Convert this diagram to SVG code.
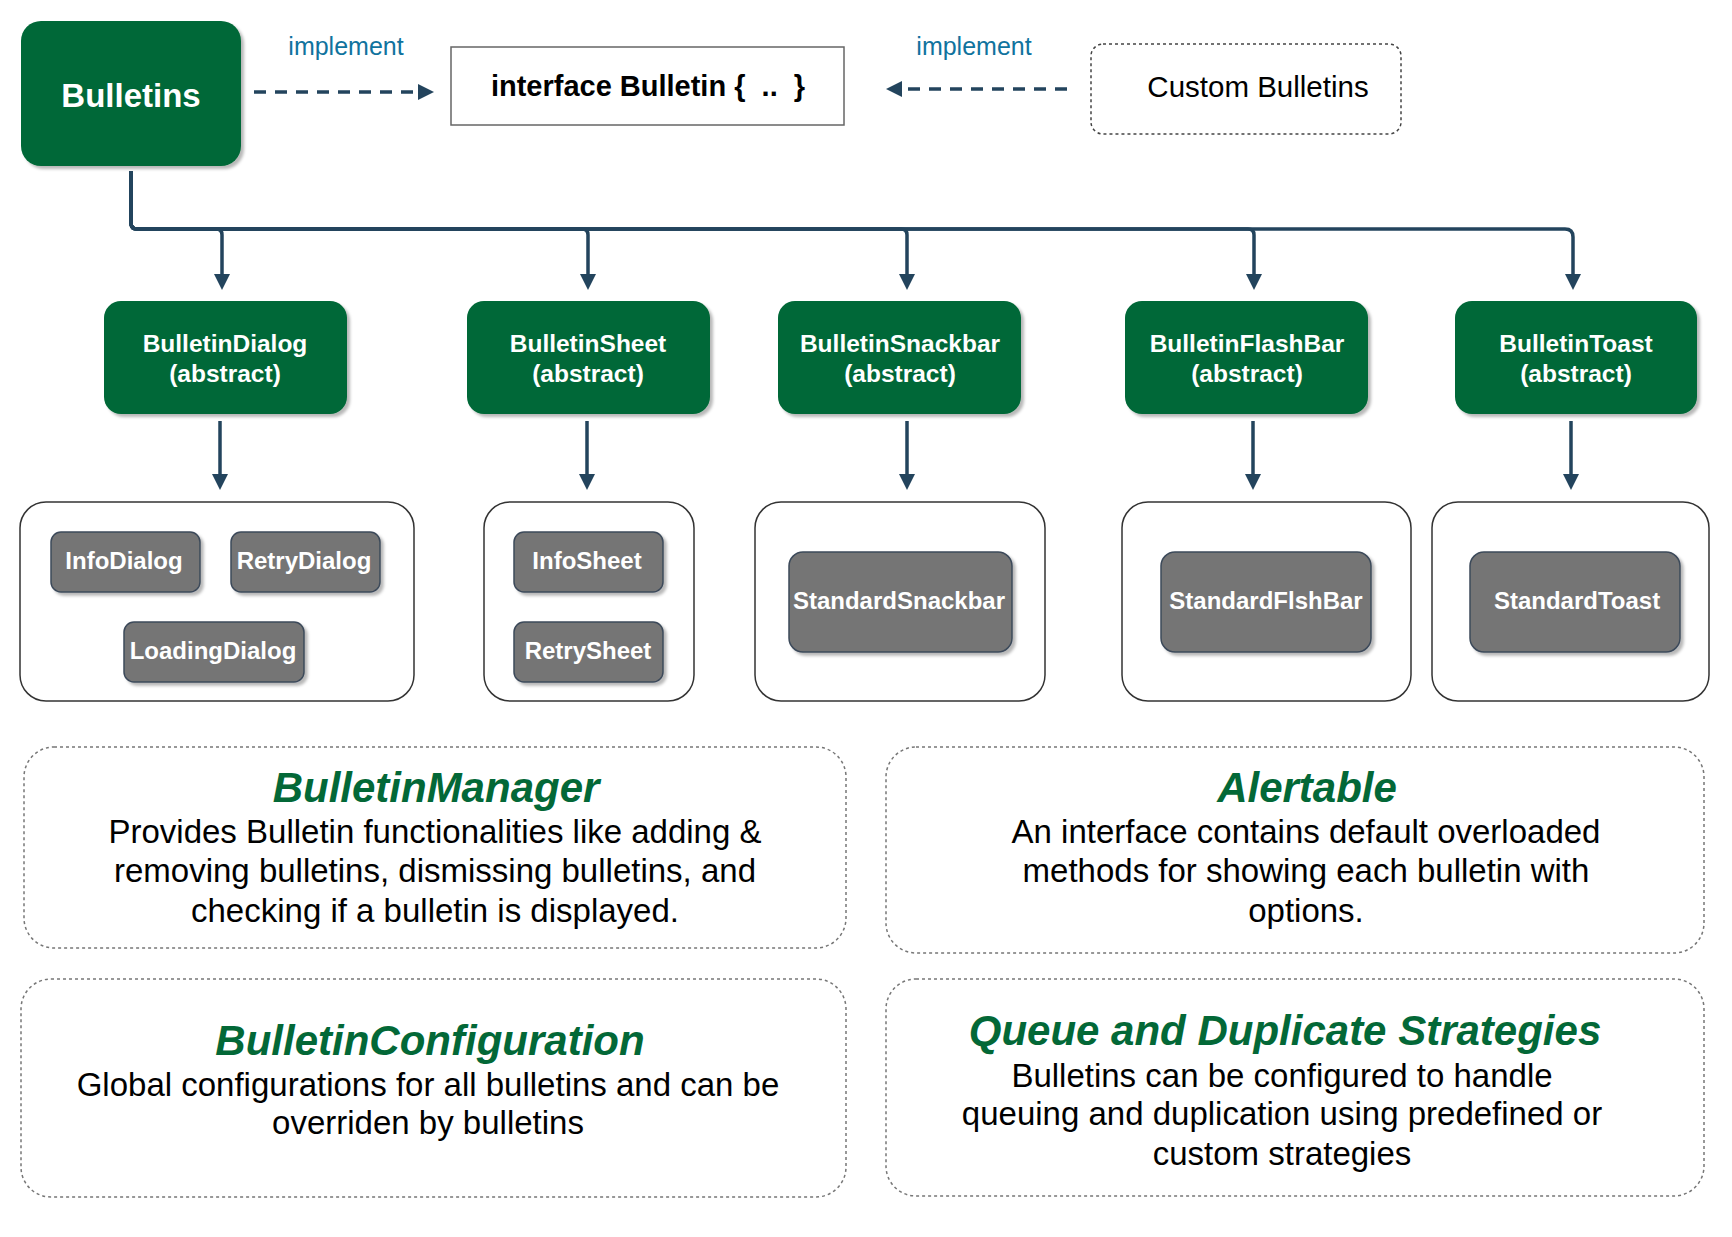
<svg xmlns="http://www.w3.org/2000/svg" width="1732" height="1237" viewBox="0 0 1732 1237">
<style>
  text { font-family: "Liberation Sans", Arial, Helvetica, sans-serif; }
  .green { fill: #036837; }
  .gray { fill: #757575; stroke: #3c4a5a; stroke-width: 1.5; }
  .wt { fill: #ffffff; font-weight: bold; text-anchor: middle; }
  .cont { fill: #ffffff; stroke: #333333; stroke-width: 1.5; }
  .dot { fill: #ffffff; stroke: #777777; stroke-width: 1.5; stroke-dasharray: 3 3; }
  .conn { fill: none; stroke: #23445D; stroke-width: 3.5; }
  .dash { fill: none; stroke: #23445D; stroke-width: 3.5; stroke-dasharray: 12 9; }
  .lbl { fill: #10739E; font-size: 25px; text-anchor: middle; }
  .title { fill: #036837; font-size: 42px; font-weight: bold; font-style: italic; text-anchor: middle; }
  .body { fill: #000000; font-size: 33px; text-anchor: middle; }
</style>
<defs>
  <marker id="arr" viewBox="0 0 16 16" refX="0" refY="8" markerWidth="16" markerHeight="16" markerUnits="userSpaceOnUse" orient="auto">
    <path d="M0,0 L16,8 L0,16 Z" fill="#23445D" stroke="none"/>
  </marker>
  <filter id="sh" x="-10%" y="-10%" width="130%" height="130%">
    <feDropShadow dx="3" dy="3" stdDeviation="1.5" flood-color="#000000" flood-opacity="0.28"/>
  </filter>
</defs>
<rect x="0" y="0" width="1732" height="1237" fill="#ffffff"/>

<g id="connectors">
  <path class="dash" d="M254,92 H418" marker-end="url(#arr)"/>
  <path class="dash" d="M1067,89 H902" marker-end="url(#arr)"/>
  <path class="conn" d="M131,171 V223 Q131,229 137,229 H216 Q222,229 222,235 V274" marker-end="url(#arr)"/>
  <path class="conn" d="M131,171 V223 Q131,229 137,229 H582 Q588,229 588,235 V274" marker-end="url(#arr)"/>
  <path class="conn" d="M131,171 V223 Q131,229 137,229 H901 Q907,229 907,235 V274" marker-end="url(#arr)"/>
  <path class="conn" d="M131,171 V223 Q131,229 137,229 H1248 Q1254,229 1254,235 V274" marker-end="url(#arr)"/>
  <path class="conn" d="M131,171 V223 Q131,229 137,229 H1565 Q1573,229 1573,237 V274" marker-end="url(#arr)"/>
  <path class="conn" d="M220,421 V474" marker-end="url(#arr)"/>
  <path class="conn" d="M587,421 V474" marker-end="url(#arr)"/>
  <path class="conn" d="M907,421 V474" marker-end="url(#arr)"/>
  <path class="conn" d="M1253,421 V474" marker-end="url(#arr)"/>
  <path class="conn" d="M1571,421 V474" marker-end="url(#arr)"/>
  <text class="lbl" x="346" y="55">implement</text>
  <text class="lbl" x="974" y="55">implement</text>
</g>

<g id="bulletins">
  <rect class="green" x="21" y="21" width="220" height="145" rx="20" filter="url(#sh)"/>
  <text class="wt" x="131" y="107" font-size="33">Bulletins</text>
</g>

<g id="interface">
  <rect x="451" y="47" width="393" height="78" fill="#ffffff" stroke="#666666" stroke-width="1.5"/>
  <text x="648" y="96" font-size="29" font-weight="bold" text-anchor="middle" style="white-space:pre" xml:space="preserve">interface Bulletin {  ..  }</text>
</g>

<g id="custom">
  <rect x="1091" y="44" width="310" height="90" rx="12" fill="#ffffff" stroke="#444444" stroke-width="1.5" stroke-dasharray="3 3"/>
  <text x="1258" y="97" font-size="29.5" text-anchor="middle">Custom Bulletins</text>
</g>

<g id="bulletinDialog">
  <rect class="green" x="104" y="301" width="243" height="113" rx="17" filter="url(#sh)"/>
  <text class="wt" x="225" y="352" font-size="24.5">BulletinDialog</text>
  <text class="wt" x="225" y="382" font-size="24.5">(abstract)</text>
</g>
<g id="bulletinSheet">
  <rect class="green" x="467" y="301" width="243" height="113" rx="17" filter="url(#sh)"/>
  <text class="wt" x="588" y="352" font-size="24.5">BulletinSheet</text>
  <text class="wt" x="588" y="382" font-size="24.5">(abstract)</text>
</g>
<g id="bulletinSnackbar">
  <rect class="green" x="778" y="301" width="243" height="113" rx="17" filter="url(#sh)"/>
  <text class="wt" x="900" y="352" font-size="24.5">BulletinSnackbar</text>
  <text class="wt" x="900" y="382" font-size="24.5">(abstract)</text>
</g>
<g id="bulletinFlashBar">
  <rect class="green" x="1125" y="301" width="243" height="113" rx="17" filter="url(#sh)"/>
  <text class="wt" x="1247" y="352" font-size="24.5">BulletinFlashBar</text>
  <text class="wt" x="1247" y="382" font-size="24.5">(abstract)</text>
</g>
<g id="bulletinToast">
  <rect class="green" x="1455" y="301" width="242" height="113" rx="17" filter="url(#sh)"/>
  <text class="wt" x="1576" y="352" font-size="24.5">BulletinToast</text>
  <text class="wt" x="1576" y="382" font-size="24.5">(abstract)</text>
</g>

<g id="dialogGroup">
  <rect class="cont" x="20" y="502" width="394" height="199" rx="26"/>
</g>
<g id="sheetGroup">
  <rect class="cont" x="484" y="502" width="210" height="199" rx="26"/>
</g>
<g id="snackbarGroup">
  <rect class="cont" x="755" y="502" width="290" height="199" rx="26"/>
</g>
<g id="flashBarGroup">
  <rect class="cont" x="1122" y="502" width="289" height="199" rx="26"/>
</g>
<g id="toastGroup">
  <rect class="cont" x="1432" y="502" width="277" height="199" rx="26"/>
</g>

<g id="infoDialog">
  <rect class="gray" x="51" y="532" width="149" height="60" rx="10" filter="url(#sh)"/>
  <text class="wt" x="124" y="569" font-size="24">InfoDialog</text>
</g>
<g id="retryDialog">
  <rect class="gray" x="231" y="532" width="149" height="60" rx="10" filter="url(#sh)"/>
  <text class="wt" x="304" y="569" font-size="24">RetryDialog</text>
</g>
<g id="loadingDialog">
  <rect class="gray" x="124" y="622" width="180" height="60" rx="10" filter="url(#sh)"/>
  <text class="wt" x="213" y="659" font-size="24">LoadingDialog</text>
</g>
<g id="infoSheet">
  <rect class="gray" x="514" y="532" width="149" height="60" rx="10" filter="url(#sh)"/>
  <text class="wt" x="587" y="569" font-size="24">InfoSheet</text>
</g>
<g id="retrySheet">
  <rect class="gray" x="514" y="622" width="149" height="60" rx="10" filter="url(#sh)"/>
  <text class="wt" x="588" y="659" font-size="24">RetrySheet</text>
</g>
<g id="standardSnackbar">
  <rect class="gray" x="789" y="552" width="223" height="100" rx="14" filter="url(#sh)"/>
  <text class="wt" x="899" y="609" font-size="24">StandardSnackbar</text>
</g>
<g id="standardFlshBar">
  <rect class="gray" x="1161" y="552" width="210" height="100" rx="14" filter="url(#sh)"/>
  <text class="wt" x="1266" y="609" font-size="24">StandardFlshBar</text>
</g>
<g id="standardToast">
  <rect class="gray" x="1470" y="552" width="210" height="100" rx="14" filter="url(#sh)"/>
  <text class="wt" x="1577" y="609" font-size="24">StandardToast</text>
</g>

<g id="bulletinManager">
  <rect class="dot" x="24" y="747" width="822" height="201" rx="30"/>
  <text class="title" x="436" y="802">BulletinManager</text>
  <text class="body" x="435" y="843">Provides Bulletin functionalities like adding &amp;</text>
  <text class="body" x="435" y="882">removing bulletins, dismissing bulletins, and</text>
  <text class="body" x="435" y="922">checking if a bulletin is displayed.</text>
</g>

<g id="alertable">
  <rect class="dot" x="886" y="747" width="818" height="206" rx="30"/>
  <text class="title" x="1307" y="802">Alertable</text>
  <text class="body" x="1306" y="843">An interface contains default overloaded</text>
  <text class="body" x="1306" y="882">methods for showing each bulletin with</text>
  <text class="body" x="1306" y="922">options.</text>
</g>

<g id="bulletinConfiguration">
  <rect class="dot" x="21" y="979" width="825" height="218" rx="30"/>
  <text class="title" x="430" y="1055">BulletinConfiguration</text>
  <text class="body" x="428" y="1096">Global configurations for all bulletins and can be</text>
  <text class="body" x="428" y="1134">overriden by bulletins</text>
</g>

<g id="queueStrategies">
  <rect class="dot" x="886" y="979" width="818" height="217" rx="30"/>
  <text class="title" x="1285" y="1045">Queue and Duplicate Strategies</text>
  <text class="body" x="1282" y="1087">Bulletins can be configured to handle</text>
  <text class="body" x="1282" y="1125">queuing and duplication using predefined or</text>
  <text class="body" x="1282" y="1165">custom strategies</text>
</g>
</svg>
